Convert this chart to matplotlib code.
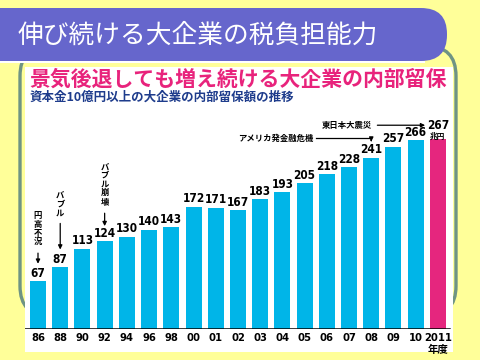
import numpy as np
import matplotlib.pyplot as plt
from matplotlib import font_manager
from matplotlib.patches import FancyBboxPatch, Rectangle

plt.rcParams['font.family'] = ['Noto Sans CJK JP', 'DejaVu Sans']

# データ（兆円）
years = ['86', '88', '90', '92', '94', '96', '98', '00', '01', '02', '03',
         '04', '05', '06', '07', '08', '09', '10', '2011']
values = [67, 87, 113, 124, 130, 140, 143, 172, 171, 167, 183,
          193, 205, 218, 228, 241, 257, 266, 267]

bg_yellow = '#FFFF99'
band_purple = '#6666CC'
frame_green = '#6F9484'
bar_cyan = '#00B5E8'
bar_magenta = '#E5267E'
title_magenta = '#E8237C'
sub_blue = '#1E3C8C'

# 数字用の細めのフォント
names = {f.name for f in font_manager.fontManager.ttflist}
print(sorted(n for n in names if 'Narrow' in n or 'Condensed' in n or 'DejaVu' in n))
num_font = ['Liberation Sans Narrow'] if 'Liberation Sans Narrow' in names else ['DejaVu Sans']
num_kw = dict(family=num_font, fontweight='bold', fontstretch='condensed')

fig = plt.figure(figsize=(4.8, 3.6), dpi=100)
fig.patch.set_facecolor(bg_yellow)

# 背景用の軸（1単位 = 1ピクセル）
bg = fig.add_axes([0, 0, 1, 1])
bg.set_xlim(0, 480)
bg.set_ylim(360, 0)
bg.axis('off')

# 枠
bg.add_patch(FancyBboxPatch((20, 46), 436, 270, boxstyle='round,pad=0,rounding_size=30',
                            fc='none', ec=frame_green, lw=2.4))
# 見出し帯
bg.add_patch(FancyBboxPatch((-40, 8), 487, 53, boxstyle='round,pad=0,rounding_size=26',
                            fc=band_purple, ec='none'))
bg.add_patch(Rectangle((0, 60.5), 425, 2.2, fc='white', ec='none'))
bg.text(18, 36, '伸び続ける大企業の税負担能力', color='white', fontsize=18.5,
        va='center', ha='left')

# 白いパネル
bg.add_patch(Rectangle((25, 67), 428, 285, fc='white', ec='none'))
bg.text(238, 79, '景気後退しても増え続ける大企業の内部留保', color=title_magenta,
        fontsize=15, fontweight='bold', va='center', ha='center')
bg.text(30, 97.5, '資本金10億円以上の大企業の内部留保額の推移', color=sub_blue,
        fontsize=9, fontweight='bold', va='center', ha='left')

# 棒グラフ
ax = fig.add_axes([25 / 480, 31 / 360, 428 / 480, 262 / 360])
ax.patch.set_alpha(0)
x = np.arange(len(years))
colors = [bar_cyan] * (len(years) - 1) + [bar_magenta]
ax.bar(x, values, width=0.72, color=colors, zorder=2)
ax.set_xlim(-0.585, 18.68)
ax.set_ylim(0, 369)
for s in ax.spines.values():
    s.set_visible(False)
ax.axhline(0, xmin=0, xmax=0.99, color='black', lw=1.8, zorder=3)
ax.set_yticks([])
ax.set_xticks(x)
ax.set_xticklabels(years, fontsize=8, **num_kw)
ax.tick_params(axis='x', length=0, pad=3)
ax.text(18, -30, '年度', ha='center', va='center', fontsize=7.5, fontweight='bold')

for xi, v in zip(x[:-1], values[:-1]):
    ax.text(xi, v + 2, str(v), ha='center', va='bottom', fontsize=8.5, **num_kw)
ax.text(18, 287, '267', ha='center', va='center', fontsize=8.5, **num_kw)
ax.text(18, 272, '兆円', ha='center', va='center', fontsize=5.5, fontweight='bold')

# 出来事の注記
arrow = dict(arrowstyle='-|>', color='black', lw=0.9, mutation_scale=6)
events = [(0, '円\n高\n不\n況', 141, 88), (1, 'バ\nブ\nル', 176, 108),
          (3, 'バ\nブ\nル\n崩\n壊', 204, 141)]
for xi, label, ty, tip in events:
    ax.text(xi, ty, label, ha='center', va='center', fontsize=6,
            fontweight='bold', linespacing=0.95)
    top = ty - (label.count('\n') + 1) * 6.8 - 3
    ax.annotate('', xy=(xi, tip), xytext=(xi, top), arrowprops=arrow)

ax.text(12.4, 269, 'アメリカ発金融危機', ha='right', va='center', fontsize=6,
        fontweight='bold')
ax.plot([12.5, 15], [269, 269], color='black', lw=0.9)
ax.annotate('', xy=(15, 260), xytext=(15, 269.5), arrowprops=arrow)

ax.text(15.05, 287, '東日本大震災', ha='right', va='center', fontsize=6,
        fontweight='bold')
ax.annotate('', xy=(17.55, 287), xytext=(15.15, 287), arrowprops=arrow)

fig.savefig('out.png', dpi=100, facecolor=fig.get_facecolor())
